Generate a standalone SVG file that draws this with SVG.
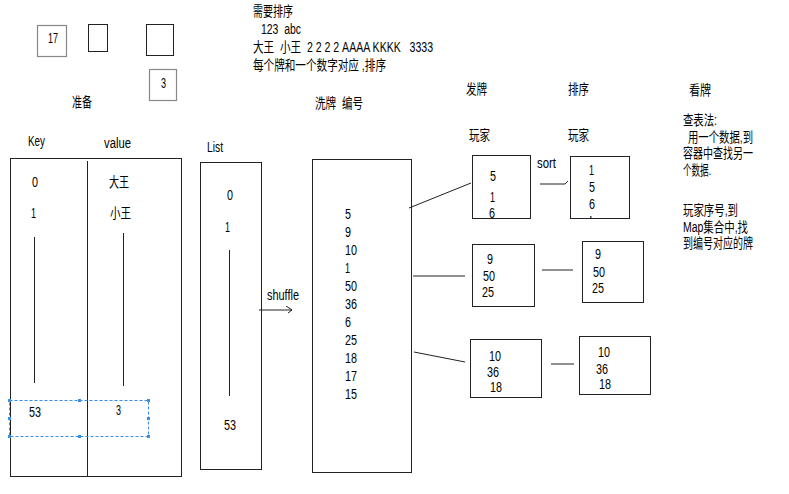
<svg xmlns="http://www.w3.org/2000/svg" width="789" height="494" viewBox="0 0 789 494">
<defs>
<style>
.t{font-family:"Liberation Sans","Noto Sans CJK SC",sans-serif;font-size:14px;fill:#000}
.b{fill:none;stroke:#222;stroke-width:1}
.g{fill:none;stroke:#888;stroke-width:1.2}
.c{fill:none;stroke:#222;stroke-width:1}
.h{fill:#3a8ee6}
</style>
<marker id="arr" viewBox="0 0 6 8" refX="6" refY="4" markerWidth="6" markerHeight="8" orient="auto" markerUnits="userSpaceOnUse">
<path d="M0,0 L6,4 L2,7" fill="none" stroke="#222" stroke-width="1"/>
</marker>
</defs>
<rect width="789" height="494" fill="#fff"/>

<g id="prep">
<rect class="g" x="37.5" y="25.5" width="29" height="31"/>
<text class="t" x="48" y="43" textLength="10" lengthAdjust="spacingAndGlyphs">17</text>
<rect class="b" x="88.5" y="24.5" width="19" height="27" stroke="#555"/>
<rect class="b" x="146.5" y="24.5" width="27" height="31"/>
<rect class="g" x="149.5" y="69.5" width="27" height="31"/>
<text class="t" x="161" y="88" textLength="5" lengthAdjust="spacingAndGlyphs">3</text>
<text class="t" x="72" y="107" textLength="20" lengthAdjust="spacingAndGlyphs">准备</text>
</g>

<g id="notes">
<text class="t" x="253" y="16" textLength="40" lengthAdjust="spacingAndGlyphs">需要排序</text>
<text class="t" x="261" y="34" textLength="40" lengthAdjust="spacingAndGlyphs" xml:space="preserve">123  abc</text>
<text class="t" x="253" y="52" textLength="180" lengthAdjust="spacingAndGlyphs" xml:space="preserve">大王  小王  2 2 2 2 AAAA KKKK   3333</text>
<text class="t" x="253" y="70" textLength="133" lengthAdjust="spacingAndGlyphs">每个牌和一个数字对应 ,排序</text>
</g>

<g id="map">
<text class="t" x="28" y="146" textLength="17" lengthAdjust="spacingAndGlyphs">Key</text>
<text class="t" x="104" y="148" textLength="27" lengthAdjust="spacingAndGlyphs">value</text>
<rect class="b" x="10.5" y="158.5" width="171" height="318"/>
<line class="b" x1="87.5" y1="161" x2="87.5" y2="476"/>
<text class="t" x="32" y="187" textLength="6" lengthAdjust="spacingAndGlyphs">0</text>
<text class="t" x="31" y="218" textLength="5" lengthAdjust="spacingAndGlyphs">1</text>
<text class="t" x="109" y="187" textLength="20" lengthAdjust="spacingAndGlyphs">大王</text>
<text class="t" x="110" y="218" textLength="21" lengthAdjust="spacingAndGlyphs">小王</text>
<line class="b" x1="34.5" y1="237" x2="34.5" y2="383"/>
<line class="b" x1="123.5" y1="233" x2="123.5" y2="386"/>
<rect x="9.5" y="400.5" width="139" height="36" fill="none" stroke="#3a8ee6" stroke-dasharray="3,2"/>
<rect class="h" x="8" y="399" width="3" height="3"/>
<rect class="h" x="78" y="399" width="3" height="3"/>
<rect class="h" x="147" y="399" width="3" height="3"/>
<rect class="h" x="8" y="417" width="3" height="3"/>
<rect class="h" x="147" y="417" width="3" height="3"/>
<rect class="h" x="8" y="435" width="3" height="3"/>
<rect class="h" x="78" y="435" width="3" height="3"/>
<rect class="h" x="147" y="435" width="3" height="3"/>
<text class="t" x="29" y="417" textLength="12" lengthAdjust="spacingAndGlyphs">53</text>
<text class="t" x="116" y="415" textLength="5" lengthAdjust="spacingAndGlyphs">3</text>
</g>

<g id="list">
<text class="t" x="207" y="152" textLength="16" lengthAdjust="spacingAndGlyphs">List</text>
<rect class="b" x="200.5" y="162.5" width="61" height="307"/>
<text class="t" x="227" y="200" textLength="6" lengthAdjust="spacingAndGlyphs">0</text>
<text class="t" x="225" y="232" textLength="5" lengthAdjust="spacingAndGlyphs">1</text>
<line class="b" x1="229.5" y1="250" x2="229.5" y2="396"/>
<text class="t" x="224" y="430" textLength="12" lengthAdjust="spacingAndGlyphs">53</text>
</g>

<g id="shuffled">
<text class="t" x="315" y="108" textLength="48" lengthAdjust="spacingAndGlyphs" xml:space="preserve">洗牌  编号</text>
<rect class="b" x="312.5" y="159.5" width="99" height="313"/>
<text class="t" x="345" y="219" textLength="6" lengthAdjust="spacingAndGlyphs">5</text>
<text class="t" x="345" y="237" textLength="6" lengthAdjust="spacingAndGlyphs">9</text>
<text class="t" x="345" y="255" textLength="12" lengthAdjust="spacingAndGlyphs">10</text>
<text class="t" x="345" y="273" textLength="5" lengthAdjust="spacingAndGlyphs">1</text>
<text class="t" x="345" y="291" textLength="12" lengthAdjust="spacingAndGlyphs">50</text>
<text class="t" x="345" y="309" textLength="12" lengthAdjust="spacingAndGlyphs">36</text>
<text class="t" x="345" y="327" textLength="6" lengthAdjust="spacingAndGlyphs">6</text>
<text class="t" x="345" y="345" textLength="12" lengthAdjust="spacingAndGlyphs">25</text>
<text class="t" x="345" y="363" textLength="12" lengthAdjust="spacingAndGlyphs">18</text>
<text class="t" x="345" y="381" textLength="12" lengthAdjust="spacingAndGlyphs">17</text>
<text class="t" x="345" y="399" textLength="12" lengthAdjust="spacingAndGlyphs">15</text>
</g>

<g id="deal-headers">
<text class="t" x="466" y="94" textLength="21" lengthAdjust="spacingAndGlyphs">发牌</text>
<text class="t" x="568" y="94" textLength="21" lengthAdjust="spacingAndGlyphs">排序</text>
<text class="t" x="469" y="140" textLength="21" lengthAdjust="spacingAndGlyphs">玩家</text>
<text class="t" x="568" y="140" textLength="21" lengthAdjust="spacingAndGlyphs">玩家</text>
<text class="t" x="537" y="168" textLength="19" lengthAdjust="spacingAndGlyphs">sort</text>
</g>

<g id="player1">
<rect class="b" x="472.5" y="155.5" width="58" height="63"/>
<text class="t" x="490" y="181" textLength="6" lengthAdjust="spacingAndGlyphs">5</text>
<text class="t" x="490" y="202" textLength="5" lengthAdjust="spacingAndGlyphs">1</text>
<text class="t" x="489" y="218" textLength="6" lengthAdjust="spacingAndGlyphs">6</text>
</g>
<g id="player1-sorted">
<rect class="b" x="570.5" y="156.5" width="59" height="62"/>
<text class="t" x="589" y="175" textLength="5" lengthAdjust="spacingAndGlyphs">1</text>
<text class="t" x="589" y="192" textLength="6" lengthAdjust="spacingAndGlyphs">5</text>
<text class="t" x="589" y="209" textLength="6" lengthAdjust="spacingAndGlyphs">6</text>
<rect x="590" y="216" width="1.5" height="2" fill="#444"/>
</g>

<g id="player2">
<rect class="b" x="472.5" y="244.5" width="62" height="62" stroke="#444"/>
<text class="t" x="487" y="264" textLength="6" lengthAdjust="spacingAndGlyphs">9</text>
<text class="t" x="483" y="281" textLength="12" lengthAdjust="spacingAndGlyphs">50</text>
<text class="t" x="482" y="297" textLength="12" lengthAdjust="spacingAndGlyphs">25</text>
</g>
<g id="player2-sorted">
<rect class="b" x="582.5" y="241.5" width="61" height="61"/>
<text class="t" x="595" y="259" textLength="6" lengthAdjust="spacingAndGlyphs">9</text>
<text class="t" x="593" y="277" textLength="12" lengthAdjust="spacingAndGlyphs">50</text>
<text class="t" x="592" y="293" textLength="12" lengthAdjust="spacingAndGlyphs">25</text>
</g>

<g id="player3">
<rect class="b" x="470.5" y="339.5" width="71" height="58" stroke="#444"/>
<text class="t" x="489" y="361" textLength="12" lengthAdjust="spacingAndGlyphs">10</text>
<text class="t" x="487" y="377" textLength="12" lengthAdjust="spacingAndGlyphs">36</text>
<text class="t" x="490" y="392" textLength="12" lengthAdjust="spacingAndGlyphs">18</text>
</g>
<g id="player3-sorted">
<rect class="b" x="579.5" y="336.5" width="71" height="58"/>
<text class="t" x="598" y="357" textLength="12" lengthAdjust="spacingAndGlyphs">10</text>
<text class="t" x="596" y="374" textLength="12" lengthAdjust="spacingAndGlyphs">36</text>
<text class="t" x="599" y="389" textLength="12" lengthAdjust="spacingAndGlyphs">18</text>
</g>

<g id="lookup">
<text class="t" x="689" y="95" textLength="22" lengthAdjust="spacingAndGlyphs">看牌</text>
<text class="t" x="683" y="125" textLength="34" lengthAdjust="spacingAndGlyphs">查表法:</text>
<text class="t" x="688" y="142" textLength="65" lengthAdjust="spacingAndGlyphs">用一个数据,到</text>
<text class="t" x="683" y="158" textLength="70" lengthAdjust="spacingAndGlyphs">容器中查找另一</text>
<text class="t" x="683" y="175" textLength="28" lengthAdjust="spacingAndGlyphs">个数据.</text>
<text class="t" x="683" y="215" textLength="55" lengthAdjust="spacingAndGlyphs">玩家序号,到</text>
<text class="t" x="683" y="232" textLength="65" lengthAdjust="spacingAndGlyphs">Map集合中,找</text>
<text class="t" x="683" y="248" textLength="70" lengthAdjust="spacingAndGlyphs">到编号对应的牌</text>
</g>

<g id="connectors">
<line class="c" x1="259" y1="310" x2="292" y2="310" marker-end="url(#arr)"/>
<text class="t" x="267" y="300" textLength="32" lengthAdjust="spacingAndGlyphs">shuffle</text>
<line class="c" x1="409" y1="208" x2="471" y2="183"/>
<line class="c" x1="413" y1="276" x2="465" y2="276"/>
<line class="c" x1="414" y1="352" x2="465" y2="362"/>
<path class="c" d="M540,184 H565 L568,181"/>
<line class="c" x1="542" y1="270" x2="573" y2="270"/>
<line class="c" x1="551" y1="364" x2="574" y2="364"/>
</g>
</svg>
